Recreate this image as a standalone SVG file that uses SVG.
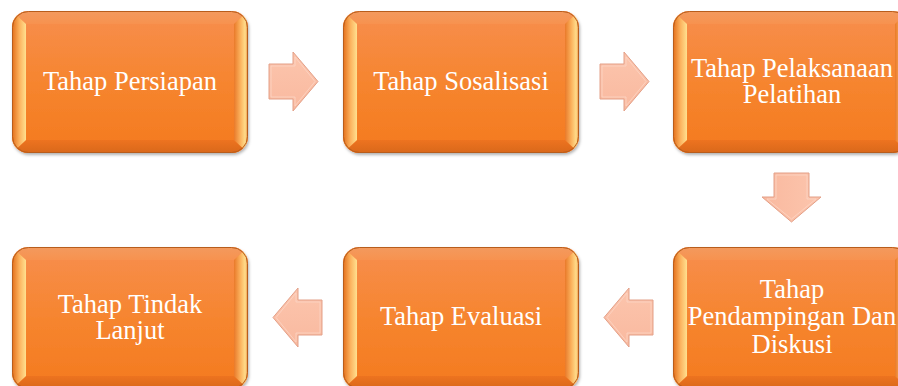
<svg xmlns="http://www.w3.org/2000/svg" xmlns:xlink="http://www.w3.org/1999/xlink" width="898" height="386" viewBox="0 0 898 386">
  <style>
    .lbl { font-family: "Liberation Serif", "Times New Roman", serif; font-size: 26.5px; fill: #ffffff; text-anchor: middle; }
    .arrow { fill: url(#arrowFill); stroke: #e3a088; stroke-width: 1; }
    .arrowIn { fill: none; stroke: #fdd6c6; stroke-width: 1; opacity: 0.8; }
  </style>
  <defs>
    <linearGradient id="boxFill" x1="0" y1="0" x2="0" y2="1">
      <stop offset="0" stop-color="#f78e4e"/>
      <stop offset="0.5" stop-color="#f6852f"/>
      <stop offset="1" stop-color="#f47a1f"/>
    </linearGradient>
    <linearGradient id="bevL" x1="0" y1="0" x2="1" y2="0">
      <stop offset="0" stop-color="#e36d18"/>
      <stop offset="0.55" stop-color="#fcb460"/>
      <stop offset="1" stop-color="#ffe08f"/>
    </linearGradient>
    <linearGradient id="bevR" x1="0" y1="0" x2="1" y2="0">
      <stop offset="0" stop-color="#e97a2a"/>
      <stop offset="0.45" stop-color="#fbb15c"/>
      <stop offset="0.8" stop-color="#ffdc8a"/>
      <stop offset="1" stop-color="#e8863a"/>
    </linearGradient>
    <linearGradient id="bevT" x1="0" y1="0" x2="0" y2="1">
      <stop offset="0" stop-color="#f39a5e"/>
      <stop offset="1" stop-color="#f7924f"/>
    </linearGradient>
    <linearGradient id="bevB" x1="0" y1="0" x2="0" y2="1">
      <stop offset="0" stop-color="#ed7320"/>
      <stop offset="1" stop-color="#d9681a"/>
    </linearGradient>
    <linearGradient id="arrowFill" x1="0" y1="0" x2="0" y2="1">
      <stop offset="0" stop-color="#fcc5ad"/>
      <stop offset="1" stop-color="#f9b99f"/>
    </linearGradient>
    <filter id="shadow" x="-5%" y="-5%" width="112%" height="115%">
      <feDropShadow dx="1" dy="2" stdDeviation="1.5" flood-color="#000" flood-opacity="0.3"/>
    </filter>
    <clipPath id="boxClip">
      <rect x="0" y="0" width="236" height="142" rx="16"/>
    </clipPath>
    <g id="box">
      <rect x="0" y="0" width="236" height="142" rx="16" fill="url(#boxFill)" filter="url(#shadow)"/>
      <g clip-path="url(#boxClip)">
        <polygon points="0,0 236,0 222,13 14,13" fill="url(#bevT)"/>
        <polygon points="0,142 236,142 222,129 14,129" fill="url(#bevB)"/>
        <polygon points="0,0 14,13 14,129 0,142" fill="url(#bevL)"/>
        <polygon points="236,0 222,13 222,129 236,142" fill="url(#bevR)"/>
      </g>
      <rect x="0.5" y="0.5" width="235" height="141" rx="16" fill="none" stroke="#b85d1c" stroke-width="1"/>
    </g>
    <g id="arr">
      <path class="arrow" d="M0,12 H24 V0 L49,29.5 L24,59 V47 H0 Z"/>
      <path class="arrowIn" d="M2,14 H26 V5 L46,29.5 L26,54 V45 H2 Z"/>
    </g>
  </defs>

  <g id="connectors">
    <use xlink:href="#arr" href="#arr" transform="translate(269,52)"/>
    <use xlink:href="#arr" href="#arr" transform="translate(600,52)"/>
    <use xlink:href="#arr" href="#arr" transform="translate(821,173) rotate(90)"/>
    <use xlink:href="#arr" href="#arr" transform="translate(653,288) scale(-1,1)"/>
    <use xlink:href="#arr" href="#arr" transform="translate(322,288) scale(-1,1)"/>
  </g>

  <g id="node-persiapan">
    <use xlink:href="#box" href="#box" x="12" y="11"/>
    <text class="lbl" x="130" y="90">Tahap Persiapan</text>
  </g>
  <g id="node-sosialisasi">
    <use xlink:href="#box" href="#box" x="343" y="11"/>
    <text class="lbl" x="461" y="90">Tahap Sosalisasi</text>
  </g>
  <g id="node-pelaksanaan">
    <use xlink:href="#box" href="#box" x="673" y="11"/>
    <text class="lbl" x="792" y="77">Tahap Pelaksanaan</text>
    <text class="lbl" x="792" y="103">Pelatihan</text>
  </g>
  <g id="node-pendampingan">
    <use xlink:href="#box" href="#box" x="673" y="247"/>
    <text class="lbl" x="792" y="298">Tahap</text>
    <text class="lbl" x="792" y="325">Pendampingan Dan</text>
    <text class="lbl" x="792" y="353">Diskusi</text>
  </g>
  <g id="node-evaluasi">
    <use xlink:href="#box" href="#box" x="343" y="247"/>
    <text class="lbl" x="461" y="325">Tahap Evaluasi</text>
  </g>
  <g id="node-tindak-lanjut">
    <use xlink:href="#box" href="#box" x="12" y="247"/>
    <text class="lbl" x="130" y="313">Tahap Tindak</text>
    <text class="lbl" x="130" y="339">Lanjut</text>
  </g>
</svg>
